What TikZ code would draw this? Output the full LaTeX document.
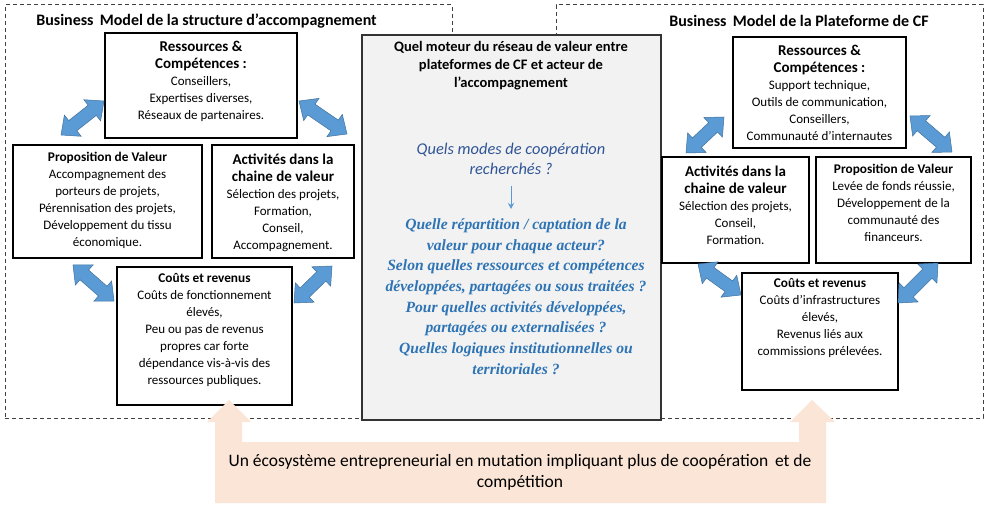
\documentclass[tikz,border=0pt]{standalone}
\usepackage{fontspec}
\setmainfont{Carlito}
\newfontfamily\qfont{Liberation Serif}
\usetikzlibrary{calc,arrows.meta}

\definecolor{arrowblue}{HTML}{5B9BD5}
\definecolor{arrowedge}{HTML}{41719C}
\definecolor{peach}{HTML}{FBE5D6}
\definecolor{panelgray}{HTML}{F2F2F2}
\definecolor{qblue}{HTML}{2E74B5}
\definecolor{qbluedark}{HTML}{2F5597}
\definecolor{framegray}{HTML}{404040}

% headings inside the model boxes
\newcommand\boxhead[1]{{\fontsize{15}{17}\selectfont\bfseries #1}}
\newcommand\boxheadsm[1]{{\fontsize{13.3}{17}\selectfont\bfseries #1}}

% block double arrow between two points
\def\arrhl{15pt}
\def\arrhw{13.5pt}
\def\arrsw{6.5pt}
\newcommand\dblarrow[2]{%
  \filldraw[blockarrow]
    (#1) -- ($(#1)!\arrhl!(#2)!\arrhw!90:(#2)$)
         -- ($(#1)!\arrhl!(#2)!\arrsw!90:(#2)$)
         -- ($(#2)!\arrhl!(#1)!\arrsw!-90:(#1)$)
         -- ($(#2)!\arrhl!(#1)!\arrhw!-90:(#1)$)
         -- (#2)
         -- ($(#2)!\arrhl!(#1)!\arrhw!90:(#1)$)
         -- ($(#2)!\arrhl!(#1)!\arrsw!90:(#1)$)
         -- ($(#1)!\arrhl!(#2)!\arrsw!-90:(#2)$)
         -- ($(#1)!\arrhl!(#2)!\arrhw!-90:(#2)$)
         -- cycle;}

\begin{document}
\begin{tikzpicture}[x=1pt,y=-1pt,
  frame/.style={draw=framegray, dash pattern=on 4pt off 3pt, line width=1pt, inner sep=0pt},
  bmbox/.style={draw=black, line width=1.2pt, fill=white, inner sep=0pt},
  centerbox/.style={draw=black!80, line width=1.2pt, fill=panelgray, inner sep=0pt},
  boxtext/.style={align=center, inner sep=0pt, font=\fontsize{13}{17}\selectfont,
    execute at begin node=\strut, execute at end node=\strut},
  titletext/.style={inner sep=0pt, font=\fontsize{16}{18}\selectfont\bfseries},
  blockarrow/.style={fill=arrowblue, draw=arrowedge, line width=0.5pt, line join=miter},
]
\useasboundingbox (0,0) rectangle (986,505);
\fill[white] (0,0) rectangle (986,505);

% dashed business model frames
\node[frame, minimum width=447pt, minimum height=413pt] (lframe) at (228.5,211.5) {};
\node[frame, minimum width=427pt, minimum height=413pt] (rframe) at (769.5,211.5) {};
\node[titletext] (ltitle) at (206.5,21) {Business\, Model de la structure d’accompagnement};
\node[titletext] (rtitle) at (799,21) {Business\, Model de la Plateforme de CF};

% central question panel
\node[centerbox, minimum width=299pt, minimum height=385pt] (center) at (511.5,227.5) {};
\node[align=center, inner sep=0pt, font=\fontsize{14.5}{18}\selectfont\bfseries,
  execute at begin node=\strut, execute at end node=\strut] (ctitle) at (511,67)
  {Quel moteur du réseau de valeur entre\\plateformes de CF et acteur de\\l’accompagnement};
\node[align=center, inner sep=0pt, text=qbluedark, font=\fontsize{16.4}{20}\selectfont\itshape,
  execute at begin node=\strut, execute at end node=\strut] (cq1) at (511,162)
  {Quels modes de coopération\\recherchés ?};
\coordinate (cqa) at (511,186);
\coordinate (cqb) at (511,209);
\draw[arrowblue, line width=1pt, -{Stealth[length=6pt,width=6pt]}] (cqa) -- (cqb);
\node[align=center, inner sep=0pt, text=qblue, font=\qfont\fontsize{15.6}{20.7}\selectfont\bfseries\itshape,
  execute at begin node=\strut, execute at end node=\strut] (cq2) at (516,299.5)
  {Quelle répartition / captation de la\\valeur pour chaque acteur?\\
   Selon quelles ressources et compétences\\développées, partagées ou sous traitées ?\\
   Pour quelles activités développées,\\partagées ou externalisées ?\\
   Quelles logiques institutionnelles ou\\territoriales ?};

% left model: structure d'accompagnement
\node[bmbox, minimum width=192pt, minimum height=105pt] (lres) at (201,85.5) {};
\node[boxtext] (lrest) at (201,83)
  {\boxhead{Ressources \&}\\\boxhead{Compétences :}\\Conseillers,\\Expertises diverses,\\Réseaux de partenaires.};
\node[bmbox, minimum width=189pt, minimum height=113pt] (lprop) at (107.5,201.5) {};
\node[boxtext] (lpropt) at (107.5,201.5)
  {\boxheadsm{Proposition de Valeur}\\Accompagnement des\\porteurs de projets,\\Pérennisation des projets,\\Développement du tissu\\économique.};
\node[bmbox, minimum width=142pt, minimum height=113pt] (lact) at (283,201.5) {};
\node[boxtext] (lactt) at (283,204.5)
  {\boxhead{Activités dans la}\\\boxhead{chaine de valeur}\\Sélection des projets,\\Formation,\\Conseil,\\Accompagnement.};
\node[bmbox, minimum width=175pt, minimum height=138pt] (lcout) at (204.5,336) {};
\node[boxtext] (lcoutt) at (204.5,332)
  {\boxheadsm{Coûts et revenus}\\Coûts de fonctionnement\\élevés,\\Peu ou pas de revenus\\propres car forte\\dépendance vis-à-vis des\\ressources publiques.};

% right model: plateforme de CF
\node[bmbox, minimum width=173pt, minimum height=111pt] (rres) at (819.5,92.5) {};
\node[boxtext] (rrest) at (819.5,95)
  {\boxhead{Ressources \&}\\\boxhead{Compétences :}\\Support technique,\\Outils de communication,\\Conseillers,\\Communauté d’internautes};
\node[bmbox, minimum width=147pt, minimum height=106pt] (ract) at (735.5,210) {};
\node[boxtext] (ractt) at (735.5,208)
  {\boxhead{Activités dans la}\\\boxhead{chaine de valeur}\\Sélection des projets,\\Conseil,\\Formation.};
\node[bmbox, minimum width=155pt, minimum height=106pt] (rprop) at (893.5,210) {};
\node[boxtext] (rpropt) at (893.5,205)
  {\boxheadsm{Proposition de Valeur}\\Levée de fonds réussie,\\Développement de la\\communauté des\\financeurs.};
\node[bmbox, minimum width=156pt, minimum height=117pt] (rcout) at (820,331.5) {};
\node[boxtext] (rcoutt) at (820,320)
  {\boxheadsm{Coûts et revenus}\\Coûts d’infrastructures\\élevés,\\Revenus liés aux\\commissions prélevées.};

% double arrows between the building blocks
\coordinate (la1) at (61,135);  \coordinate (lb1) at (104,101);
\coordinate (la2) at (299,101); \coordinate (lb2) at (347,134);
\coordinate (la3) at (73,265);  \coordinate (lb3) at (114,301);
\coordinate (la4) at (294,303); \coordinate (lb4) at (332,266);
\coordinate (ra1) at (686,153); \coordinate (rb1) at (724,117);
\coordinate (ra2) at (910,116); \coordinate (rb2) at (952,152);
\coordinate (ra3) at (698,264); \coordinate (rb3) at (741,295);
\coordinate (ra4) at (898,303); \coordinate (rb4) at (938,263);
\dblarrow{la1}{lb1}
\dblarrow{la2}{lb2}
\dblarrow{la3}{lb3}
\dblarrow{la4}{lb4}
\dblarrow{ra1}{rb1}
\dblarrow{ra2}{rb2}
\dblarrow{ra3}{rb3}
\dblarrow{ra4}{rb4}

% ecosystem band pushing up into both models
\fill[peach] (229,400) -- (251,422) -- (242,422) -- (242,442) -- (799,442) -- (799,422)
  -- (790,422) -- (812,400) -- (835,422) -- (826,422) -- (826,503) -- (215,503)
  -- (215,422) -- (207,422) -- cycle;
\node[align=center, inner sep=0pt, font=\fontsize{17.5}{21}\selectfont,
  execute at begin node=\strut, execute at end node=\strut] (eco) at (520,474)
  {Un écosystème entrepreneurial en mutation impliquant plus de coopération\, et de\\compétition};
\end{tikzpicture}
\end{document}
